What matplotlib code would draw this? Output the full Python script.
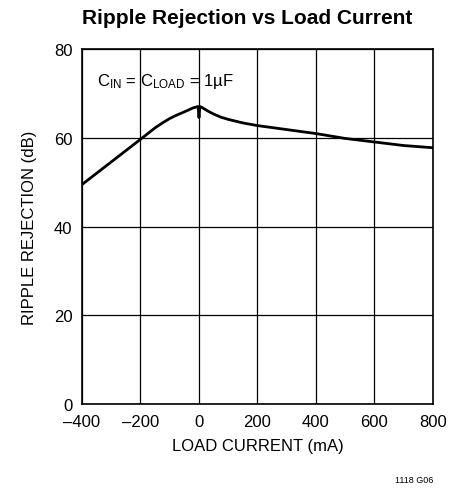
import matplotlib
matplotlib.use('Agg')
import matplotlib.pyplot as plt

plt.rcParams['font.family'] = ['Liberation Sans', 'DejaVu Sans']
plt.rcParams['mathtext.fontset'] = 'custom'
plt.rcParams['mathtext.rm'] = 'Liberation Sans'
plt.rcParams['mathtext.it'] = 'Liberation Sans'
plt.rcParams['axes.unicode_minus'] = False

# curve
load_ma = [-400, -300, -200, -150, -125, -100, -75, -50, -20, -3, 0, 3, 10, 30,
           50, 75, 100, 150, 200, 300, 400, 500, 600, 700, 800]
rejection_db = [49.5, 54.6, 59.7, 62.3, 63.4, 64.4, 65.2, 65.9, 66.8, 67.1, 64.6,
                67.1, 66.9, 66.1, 65.4, 64.7, 64.2, 63.4, 62.8, 61.9, 61.0, 59.9,
                59.1, 58.3, 57.8]

x_ticks = [-400, -200, 0, 200, 400, 600, 800]
x_labels = ['\u2013400', '\u2013200', '0', '200', '400', '600', '800']
y_ticks = [0, 20, 40, 60, 80]

fig = plt.figure(figsize=(4.66, 4.89), dpi=100)
ax = fig.add_axes([0.176, 0.172, 0.753, 0.725])

ax.plot(load_ma, rejection_db, color='black', linewidth=2.0, solid_joinstyle='round')

ax.set_xlim(-400, 800)
ax.set_ylim(0, 80)
ax.set_xticks(x_ticks)
ax.set_xticklabels(x_labels)
ax.set_yticks(y_ticks)
ax.tick_params(axis='x', length=0, labelsize=12, pad=7)
ax.tick_params(axis='y', length=0, labelsize=12, pad=7)
ax.grid(True, color='black', linewidth=0.9)
for s in ax.spines.values():
    s.set_linewidth(1.2)

ax.set_xlabel('LOAD CURRENT (mA)', fontsize=12, labelpad=7)
ax.set_ylabel('RIPPLE REJECTION (dB)', fontsize=12, labelpad=12)

ax.text(-350, 72, 'C$_{\\rm IN}$ = C$_{\\rm LOAD}$ = 1\u00b5F', fontsize=12,
        ha='left', va='baseline')

fig.text(0.53, 0.962, 'Ripple Rejection vs Load Current', ha='center', va='center',
         fontsize=15, fontweight='bold')
fig.text(0.93, 0.018, '1118 G06', ha='right', va='center', fontsize=6.5)

plt.savefig('out.png', dpi=100)
plt.close()
